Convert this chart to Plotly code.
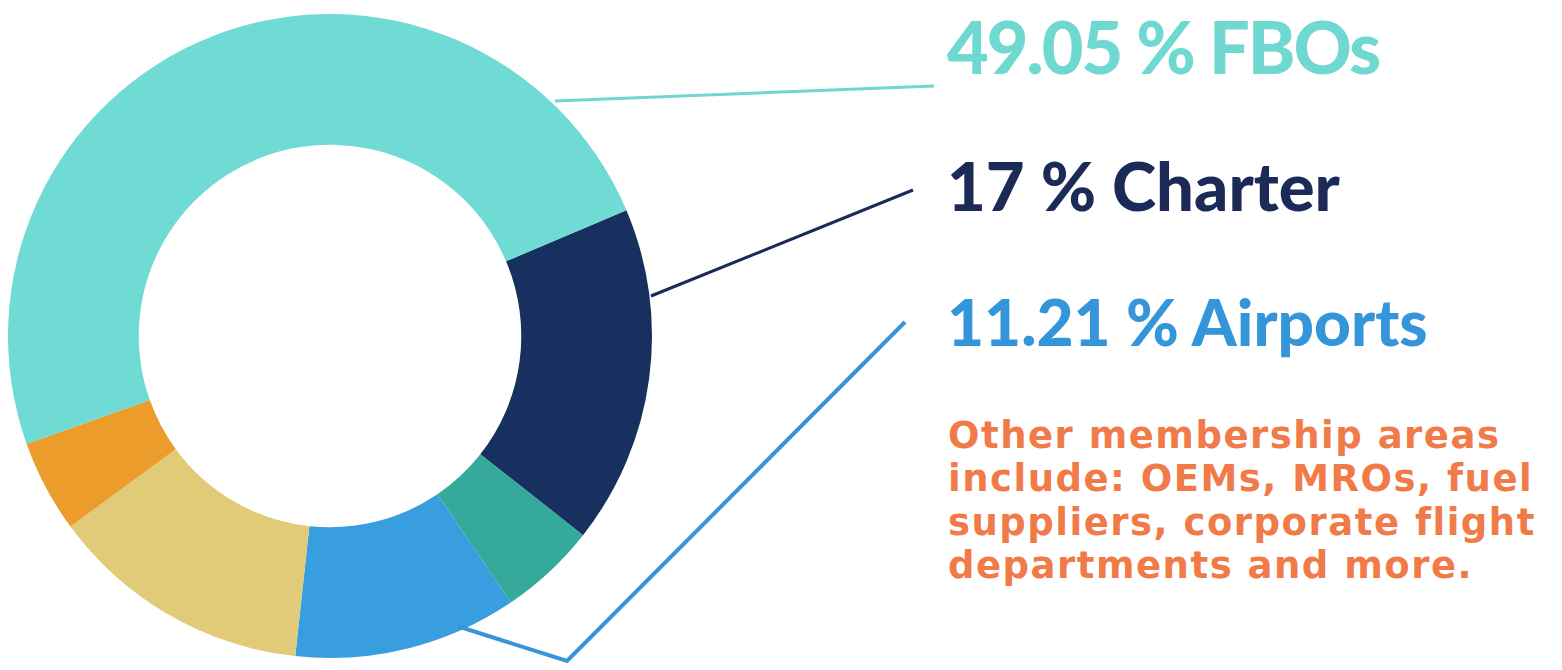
import plotly.graph_objects as go

# ---- data ----
segments = ["Charter", "Other A", "Airports", "Other B", "Other C", "FBOs"]
shares = [17, 4.9, 11.21, 13.2, 4.64, 49.05]
seg_colors = ["#17305f", "#34a99c", "#389ee0", "#e1ca78", "#eb9c2b", "#70dbd5"]

callout_labels = ["FBOs", "Charter", "Airports"]
callout_values = ["49.05", "17", "11.21"]
callout_colors = ["#6fd8d0", "#1b2a56", "#3595d9"]
callout_sizes = [72, 67, 64]
callout_spacing = [-2, 0, 0]
callout_y_px = [46, 185, 321]

note_lines = [
    "Other membership areas",
    "include: OEMs, MROs, fuel",
    "suppliers, corporate flight",
    "departments and more.",
]
note_color = "#f07b48"
note_y_px = [435, 478.5, 522, 565.5]

W, H = 1562, 670

def px(x):
    return x / W

def py(y):
    return 1 - y / H

fig = go.Figure(
    go.Pie(
        labels=segments,
        values=shares,
        marker=dict(colors=seg_colors, line=dict(width=0)),
        hole=0.594,
        sort=False,
        direction="clockwise",
        rotation=67,
        textinfo="none",
        hoverinfo="label+percent",
        showlegend=False,
        domain=dict(x=[px(8), px(652)], y=[py(659), py(13)]),
    )
)

annotations = []
for lab, val, col, size, sp, y in zip(callout_labels, callout_values, callout_colors,
                                      callout_sizes, callout_spacing, callout_y_px):
    annotations.append(
        dict(
            x=px(945), y=py(y), xref="paper", yref="paper",
            xanchor="left", yanchor="middle",
            text=f'<span style="letter-spacing:{sp}px">{val} % {lab}</span>',
            showarrow=False,
            font=dict(family="Lato", size=size, color=col, weight=900),
        )
    )
for line, y in zip(note_lines, note_y_px):
    annotations.append(
        dict(
            x=px(946), y=py(y), xref="paper", yref="paper",
            xanchor="left", yanchor="middle",
            text=f'<span style="letter-spacing:1.5px">{line}</span>',
            showarrow=False,
            font=dict(family="DejaVu Sans", size=37, color=note_color, weight="bold"),
        )
    )

def seg(points, color, width):
    d = "M " + " L ".join(f"{px(x)},{py(y)}" for x, y in points)
    return dict(type="path", path=d, xref="paper", yref="paper",
                line=dict(color=color, width=width))

shapes = [
    seg([(555, 101), (934, 86)], "#70d6cf", 3),
    seg([(651, 296), (913, 190)], "#1b2a56", 3),
    seg([(457, 626), (567, 661), (905, 322)], "#3595d9", 4),
]

fig.update_layout(
    width=W, height=H,
    margin=dict(l=0, r=0, t=0, b=0),
    paper_bgcolor="white",
    plot_bgcolor="white",
    annotations=annotations,
    shapes=shapes,
)

fig.write_html(
    "out.html",
    config={"displayModeBar": False},
    post_script="document.body.style.margin='0';",
)
